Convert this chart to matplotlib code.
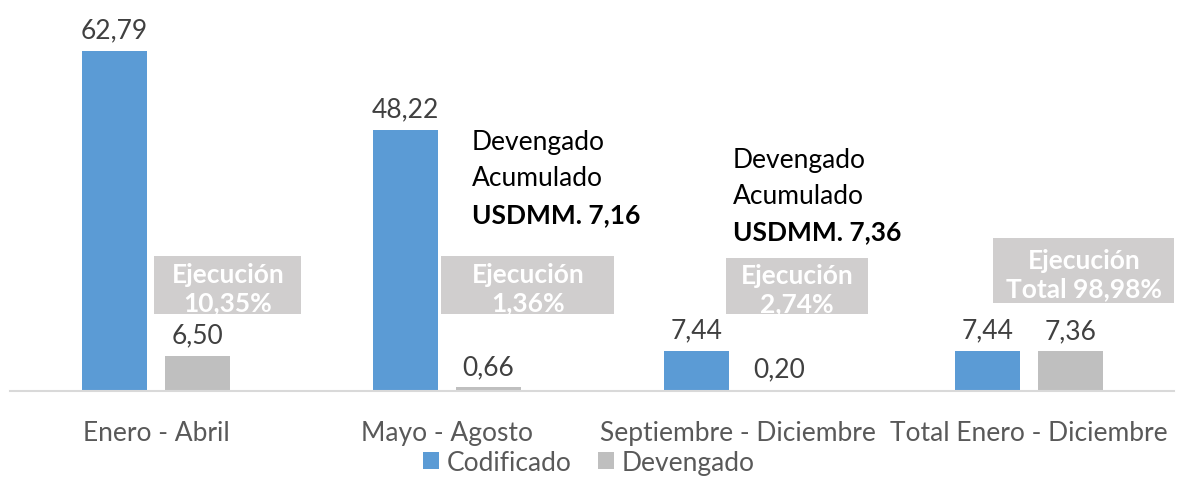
import matplotlib.pyplot as plt
import numpy as np
from matplotlib.patches import Rectangle

categories = ['Enero - Abril', 'Mayo - Agosto', 'Septiembre - Diciembre', 'Total Enero - Diciembre']
codificado = [62.79, 48.22, 7.44, 7.44]
devengado = [6.50, 0.66, 0.20, 7.36]
ejecucion = ['Ejecución\n10,35%', 'Ejecución\n1,36%', 'Ejecución\n2,74%', 'Ejecución\nTotal 98,98%']
acumulado = ['7,16', '7,36']

plt.rcParams['font.family'] = ['Lato', 'DejaVu Sans']

fig = plt.figure(figsize=(11.78, 4.81), dpi=100)
ax = fig.add_axes([0.0089, 0.185, 0.988, 0.815])

x = np.arange(len(categories))
w = 0.223
off = 0.1426
b1 = ax.bar(x - off, codificado, w, color='#5B9BD5', label='Codificado')
b2 = ax.bar(x + off, devengado, w, color='#BFBFBF', label='Devengado')

def fmt(v):
    return f'{v:.2f}'.replace('.', ',')

for bars, vals in ((b1, codificado), (b2, devengado)):
    for r, v in zip(bars, vals):
        ax.annotate(fmt(v), (r.get_x() + r.get_width() / 2, v), xytext=(0, 6),
                    textcoords='offset points', ha='center', va='bottom',
                    fontsize=19, color='#404040')

# boxes "Ejecución" (center x, center y, width, height in data units)
boxes = [(0.247, 19.6, 0.505, 10.7), (1.278, 19.6, 0.595, 10.7),
         (2.203, 19.4, 0.488, 10.5), (3.189, 22.2, 0.625, 12.0)]
for (cx, cy, bw, bh), t in zip(boxes, ejecucion):
    rect = Rectangle((cx - bw / 2, cy - bh / 2), bw, bh, facecolor='#D0CECE',
                     edgecolor='none', zorder=3)
    ax.add_patch(rect)
    txt = ax.text(cx, cy - 0.6, t, ha='center', va='center', fontsize=19,
                  fontweight='bold', color='white', zorder=4, linespacing=1.2)
    txt.set_clip_path(rect)

# accumulated notes
notes = [(1.086, 46.0), (1.983, 42.8)]
step = 6.65
for (nx, ny), val in zip(notes, acumulado):
    ax.text(nx, ny, 'Devengado', ha='left', va='center', fontsize=19, color='black')
    ax.text(nx, ny - step, 'Acumulado', ha='left', va='center', fontsize=19, color='black')
    ax.text(nx, ny - 2 * step, 'USDMM. ' + val, ha='left', va='center', fontsize=19,
            fontweight='bold', color='black')

ax.set_xlim(-0.5, 3.5)
ax.set_ylim(0, 72.4)
ax.set_xticks(x)
ax.set_xticklabels(categories, fontsize=19, color='#595959')
ax.tick_params(axis='x', length=0, pad=21)
ax.set_yticks([])
for s in ['top', 'left', 'right']:
    ax.spines[s].set_visible(False)
ax.spines['bottom'].set_color('#D9D9D9')
ax.spines['bottom'].set_linewidth(1.5)

fig.legend(loc='center', bbox_to_anchor=(0.5, 0.037), ncol=2, frameon=False,
           fontsize=19, labelcolor='#595959', handlelength=0.6, handleheight=0.6,
           handletextpad=0.3, columnspacing=1.0)

fig.savefig('out.png', dpi=100)
